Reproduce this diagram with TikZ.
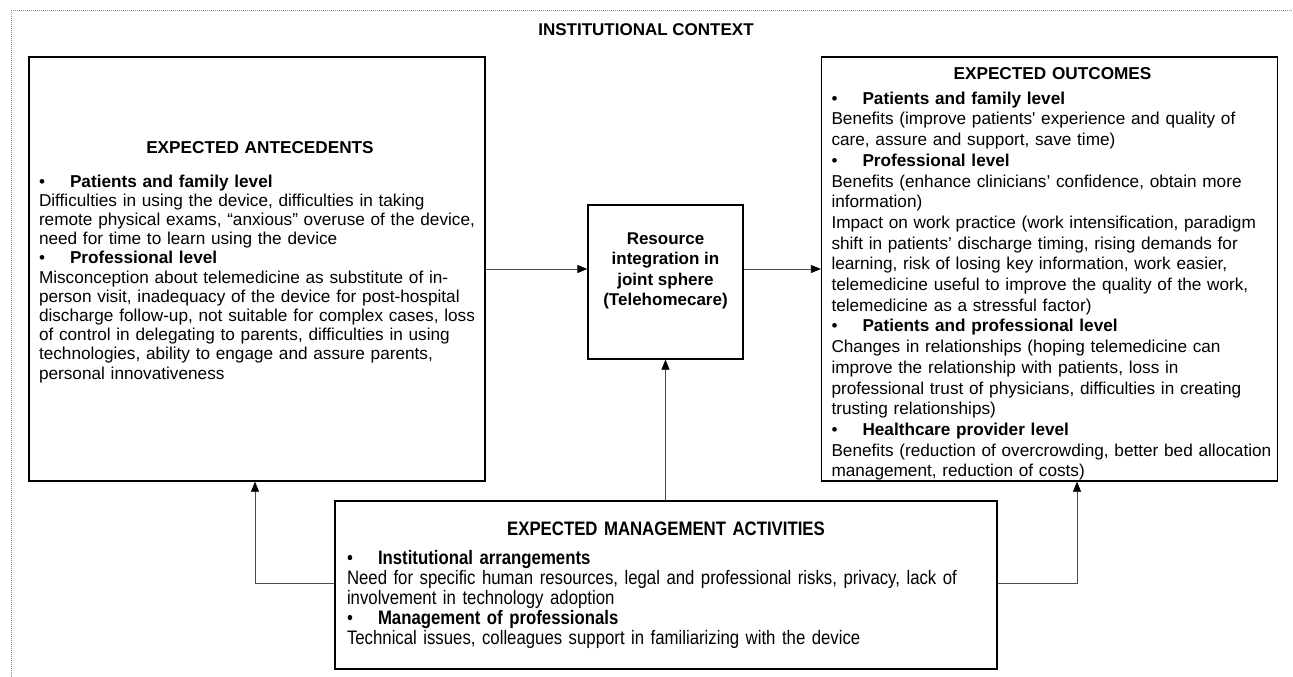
\documentclass[tikz,border=0pt]{standalone}
\usepackage{fontspec}
\setmainfont{Liberation Sans}
\newfontfamily\narrowfont[FakeStretch=0.86]{Liberation Sans}
\usetikzlibrary{arrows.meta}
\newcommand{\hd}[1]{\makebox[31pt][l]{\textbullet}\textbf{#1}}
\newcommand{\boxtitle}[1]{\makebox[\linewidth]{\bfseries #1}}
\tikzset{
    RA1/.style ={rectangle, draw, line width=1.3pt, inner xsep=7pt, inner ysep=0pt,
        minimum width=456pt, minimum height=424pt, text width=442pt, align=left,
        font=\fontsize{17.2}{19.2}\selectfont},
    RA2/.style ={rectangle, draw, line width=1.3pt, inner xsep=12pt, inner ysep=0pt,
        minimum width=662pt, minimum height=168pt, text width=638pt, align=left,
        font=\narrowfont\fontsize{19.5}{20}\selectfont},
    RA3/.style ={rectangle, draw, line width=1.3pt, minimum width=155pt, minimum height=154pt},
    TX/.style ={align=center, font=\bfseries\fontsize{17}{20.5}\selectfont},
    AR/.style ={draw=black!70, line width=0.8pt, -{Triangle[length=10pt,width=8pt,color=black]}}}
\begin{document}
\begin{tikzpicture}[x=1pt,y=-1pt]
        \useasboundingbox (0,0) rectangle (1293,677);
        \draw[densely dotted, black!45, line width=1pt] (11,677) -- (11,11) -- (1293,11);
        \node[TX] (0) at (646,30){INSTITUTIONAL CONTEXT};
        \node[RA1] (1) at (257,269){\hspace*{3pt}\boxtitle{EXPECTED ANTECEDENTS}\\[14pt]
            \hspace*{3pt}\hd{Patients and family level}\\
            \hspace*{3pt}Difficulties in using the device, difficulties in taking\\
            \hspace*{3pt}remote physical exams, “anxious” overuse of the device,\\
            \hspace*{3pt}need for time to learn using the device\\
            \hspace*{3pt}\hd{Professional level}\\
            \hspace*{3pt}Misconception about telemedicine as substitute of in-\\
            \hspace*{3pt}person visit, inadequacy of the device for post-hospital\\
            \hspace*{3pt}discharge follow-up, not suitable for complex cases, loss\\
            \hspace*{3pt}of control in delegating to parents, difficulties in using\\
            \hspace*{3pt}technologies, ability to engage and assure parents,\\
            \hspace*{3pt}personal innovativeness\\[-2pt]\mbox{}};
        \node[RA1, font=\fontsize{17.2}{20.7}\selectfont] (2) at (1049.5,269){\rule{0pt}{22pt}%
            \hspace*{3pt}\boxtitle{EXPECTED OUTCOMES}\\[4pt]
            \hspace*{3pt}\hd{Patients and family level}\\
            \hspace*{3pt}Benefits (improve patients\textquotesingle{} experience and quality of\\
            \hspace*{3pt}care, assure and support, save time)\\
            \hspace*{3pt}\hd{Professional level}\\
            \hspace*{3pt}Benefits (enhance clinicians’ confidence, obtain more\\
            \hspace*{3pt}information)\\
            \hspace*{3pt}Impact on work practice (work intensification, paradigm\\
            \hspace*{3pt}shift in patients’ discharge timing, rising demands for\\
            \hspace*{3pt}learning, risk of losing key information, work easier,\\
            \hspace*{3pt}telemedicine useful to improve the quality of the work,\\
            \hspace*{3pt}telemedicine as a stressful factor)\\
            \hspace*{3pt}\hd{Patients and professional level}\\
            \hspace*{3pt}Changes in relationships (hoping telemedicine can\\
            \hspace*{3pt}improve the relationship with patients, loss in\\
            \hspace*{3pt}professional trust of physicians, difficulties in creating\\
            \hspace*{3pt}trusting relationships)\\
            \hspace*{3pt}\hd{Healthcare provider level}\\
            \hspace*{3pt}\mbox{Benefits (reduction of overcrowding, better bed allocation}\\
            \hspace*{3pt}management, reduction of costs)};
        \node[RA3] (3) at (665.5,282){};
        \node[TX] (3a) at (665.5,271){Resource\\integration in\\joint sphere\\(Telehomecare)};
        \node[RA2] (4) at (666,585){\boxtitle{EXPECTED MANAGEMENT ACTIVITIES}\\[9pt]
            \hd{Institutional arrangements}\\
            Need for specific human resources, legal and professional risks, privacy, lack of\\
            involvement in technology adoption\\
            \hd{Management of professionals}\\
            Technical issues, colleagues support in familiarizing with the device};
        \draw[AR] (1.east) -- (1.east -| 3.west);
        \draw[AR] (3.east |- 2.west) -- (2.west);
        \draw[AR] (3.south |- 4.north) -- (3.south);
        \draw[AR] (4.west |- 0,583) -| ([xshift=-2pt]1.south);
        \draw[AR] (4.east |- 0,583) -| ([xshift=27.5pt]2.south);
    \end{tikzpicture}
\end{document}
